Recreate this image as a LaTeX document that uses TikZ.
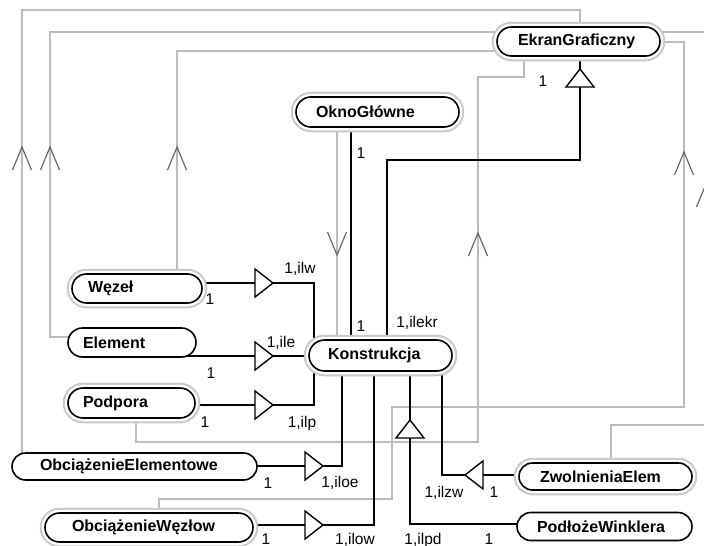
\documentclass[tikz,border=0pt]{standalone}
\usepackage{fontspec}
\setmainfont{Liberation Sans}
\definecolor{linegray}{RGB}{188,188,188}
\definecolor{ringgray}{RGB}{200,200,200}
\definecolor{veegray}{RGB}{105,105,105}
\pgfdeclarelayer{back}
\pgfsetlayers{back,main}
\newcommand\clsfont{\fontsize{16}{19}\selectfont\bfseries}
\newcommand\labfont{\fontsize{15.5}{18}\selectfont}
\tikzset{
  % class box: {text width}{height}{side padding}{corner radius}
  cls/.style n args={4}{rectangle, draw=black, line width=1.6pt, fill=white,
    rounded corners=#4pt, text width=#1pt, minimum height=#2pt,
    inner xsep=#3pt, inner ysep=0pt, align=left, font=\clsfont},
  ring/.style={preaction={draw=ringgray, line width=10.5pt},
               preaction={draw=white, line width=6.5pt}},
  assoc/.style={draw=black, line width=1.5pt},
  dep/.style={draw=linegray, line width=1.3pt},
  lab/.style={anchor=base, inner sep=0pt, font=\labfont},
  pics/tri/.style={code={\draw[black, line width=1.4pt, fill=white]
      (0,-14) -- (18,0) -- (0,14) -- cycle;}},
  pics/vee/.style={code={\draw[veegray, line width=1.2pt]
      (-23,-9.5) -- (0,0) -- (-23,9.5);}},
}
\begin{document}
\begin{tikzpicture}[x=1pt, y=-1pt]
\useasboundingbox (0,0) rectangle (704,546);
\clip (0,0) rectangle (704,546);
\begin{pgfonlayer}{back}
  \fill[white] (0,0) rectangle (704,546);
\end{pgfonlayer}

% classes
\node[cls={121}{29}{21}{14.5}, ring] (ek) at (578.5,41.5) {EkranGraficzny};
\node[cls={123}{30}{20}{15}, ring]   (ok) at (377.5,112) {OknoGłówne};
\node[cls={98}{29}{16}{14.5}, ring]  (wz) at (137,288.5) {Węzeł};
\node[cls={98}{29}{15}{14.5}]        (el) at (132,342.5) {Element};
\node[cls={97}{30}{15}{15}, ring]    (pp) at (131.5,403) {Podpora};
\node[cls={189}{27}{28}{13.5}]       (oe) at (134.5,466.5) {ObciążenieElementowe};
\node[cls={154}{29}{27}{14.5}, ring] (ow) at (149,527.5) {ObciążenieWęzłow};
\node[cls={105}{31}{19}{15.5}, ring] (ko) at (380.5,355.5) {Konstrukcja};
\node[cls={131}{27}{21}{13.5}, ring] (zw) at (605.5,476.5) {ZwolnieniaElem};
\node[cls={135}{28}{20}{14}]         (pw) at (604.5,526.5) {PodłożeWinklera};

\begin{pgfonlayer}{back}
  % dependencies
  \draw[dep] (oe.center -| 22,0) -- (22,10) -- (580,10) -- (ek.center -| 580,0);
  \draw[dep] (el.center |- 0,337) -- (50,337) -- (50,32) -- (ek.center |- 0,32);
  \draw[dep] (wz.center -| 177,0) -- (177,51) -- (ek.center |- 0,51);
  \draw[dep] (ok.center -| 337,0) -- (ko.center -| 337,0);
  \draw[dep] (pp.center -| 136,0) -- (136,442) -- (478,442) -- (478,77)
             -- (524,77) -- (ek.center -| 524,0);
  \draw[dep] (ow.center -| 159,0) -- (159,499) -- (392,499) -- (392,407)
             -- (684,407) -- (684,42) -- (ek.center |- 0,42);
  \draw[dep] (zw.center -| 611,0) -- (611,425) -- (706,425) -- (706,32)
             -- (ek.center |- 0,32);
  % associations
  \draw[assoc] (wz.center |- 0,283) -- (314,283) -- (ko.center -| 314,0);
  \draw[assoc] (el.center |- 0,356) -- (ko.center |- 0,356);
  \draw[assoc] (pp.center |- 0,405) -- (314,405) -- (ko.center -| 314,0);
  \draw[assoc] (oe.center |- 0,466) -- (342,466) -- (ko.center -| 342,0);
  \draw[assoc] (ow.center |- 0,525) -- (374,525) -- (ko.center -| 374,0);
  \draw[assoc] (pw.center |- 0,524) -- (410,524) -- (ko.center -| 410,0);
  \draw[assoc] (zw.center |- 0,475) -- (442,475) -- (ko.center -| 442,0);
  \draw[assoc] (ok.center -| 351,0) -- (ko.center -| 351,0);
  \draw[assoc] (ko.center -| 387,0) -- (387,160) -- (580,160) -- (ek.center -| 580,0);
\end{pgfonlayer}

% association markers
\pic at (255,283) {tri};
\pic at (255,356) {tri};
\pic at (255,405) {tri};
\pic at (305,466) {tri};
\pic at (305,525) {tri};
\pic[rotate=90] at (410,438) {tri};
\pic[rotate=180] at (483,475) {tri};
\pic[rotate=90] at (580,87) {tri};

% dependency arrowheads
\pic[rotate=90] at (22,147) {vee};
\pic[rotate=90] at (50,147) {vee};
\pic[rotate=90] at (177,147) {vee};
\pic[rotate=-90] at (337,255) {vee};
\pic[rotate=90] at (478,233) {vee};
\pic[rotate=90] at (684,152) {vee};
\pic[rotate=90] at (706,184) {vee};

% multiplicities
\node[lab] (m1)  at (210,304.5) {1};
\node[lab] (m2)  at (300,273.5) {1,ilw};
\node[lab] (m3)  at (281,347.5) {1,ile};
\node[lab] (m4)  at (211,378.5) {1};
\node[lab] (m5)  at (205,427.5) {1};
\node[lab] (m6)  at (302,427.5) {1,ilp};
\node[lab] (m7)  at (268,488.5) {1};
\node[lab] (m8)  at (340,487.5) {1,iloe};
\node[lab] (m9)  at (266,544) {1};
\node[lab] (m10) at (355,544) {1,ilow};
\node[lab] (m11) at (423,544) {1,ilpd};
\node[lab] (m12) at (489,544) {1};
\node[lab] (m13) at (444,497.5) {1,ilzw};
\node[lab] (m14) at (494,497.5) {1};
\node[lab] (m15) at (361,158.5) {1};
\node[lab] (m16) at (361,331.5) {1};
\node[lab] (m17) at (417,327.5) {1,ilekr};
\node[lab] (m18) at (543,86.5) {1};
\end{tikzpicture}
\end{document}
